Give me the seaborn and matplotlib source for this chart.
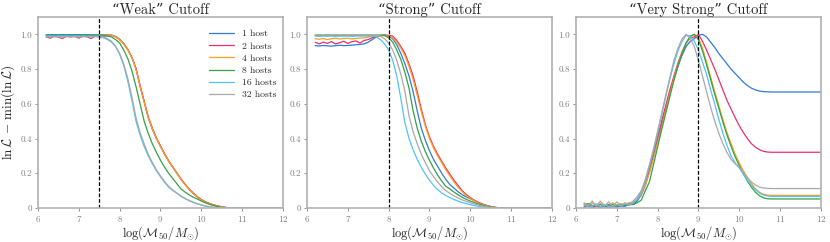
import numpy as np
import pandas as pd
import matplotlib
matplotlib.use("Agg")
import matplotlib.pyplot as plt
from matplotlib.ticker import FuncFormatter
import seaborn as sns

# mass grid: 6.2 .. 10.8 in steps of 0.1, then the flat tail out to 12
mass = [round(6.2 + 0.1 * i, 1) for i in range(47)] + [12.0]

hosts = ["1 host", "2 hosts", "4 hosts", "8 hosts", "16 hosts", "32 hosts"]
colors = ["#2f7bd4", "#ec2f6b", "#ff9f1c", "#35a047", "#4fc3f7", "#a9a9a9"]

titles = ["\u201cWeak\u201d Cutoff", "\u201cStrong\u201d Cutoff", "\u201cVery Strong\u201d Cutoff"]
cutoffs = [7.5, 8.0, 9.0]

# ---- "Weak" cutoff ----
weak = {
    "1 host": [0.998, 0.998, 0.998, 0.998, 0.998, 0.998, 0.998, 0.998, 0.998, 0.998,
               0.998, 0.998, 0.998, 0.998, 0.998, 0.997, 0.996, 0.988, 0.972, 0.947,
               0.912, 0.866, 0.801, 0.702, 0.612, 0.52, 0.455, 0.4, 0.355, 0.31,
               0.27, 0.235, 0.2, 0.166, 0.136, 0.108, 0.085, 0.064, 0.047, 0.034,
               0.025, 0.017, 0.011, 0.006, 0.003, 0.001, 0.0, 0.0],
    "2 hosts": [0.985, 0.978, 0.99, 0.984, 0.976, 0.99, 0.985, 0.99, 0.978, 0.99,
                0.986, 0.976, 0.99, 0.992, 0.99, 0.993, 0.994, 0.986, 0.97, 0.946,
                0.912, 0.868, 0.804, 0.706, 0.616, 0.525, 0.46, 0.404, 0.358, 0.313,
                0.272, 0.237, 0.202, 0.168, 0.138, 0.11, 0.087, 0.066, 0.049, 0.036,
                0.026, 0.018, 0.012, 0.007, 0.003, 0.001, 0.0, 0.0],
    "4 hosts": [0.992, 0.993, 0.991, 0.993, 0.992, 0.993, 0.991, 0.993, 0.992, 0.993,
                0.993, 0.994, 0.994, 0.995, 0.995, 0.995, 0.995, 0.985, 0.97, 0.945,
                0.91, 0.865, 0.80, 0.70, 0.61, 0.52, 0.455, 0.40, 0.355, 0.31,
                0.27, 0.235, 0.20, 0.165, 0.135, 0.108, 0.085, 0.064, 0.047, 0.034,
                0.025, 0.017, 0.011, 0.006, 0.003, 0.001, 0.0, 0.0],
    "8 hosts": [0.995, 0.995, 0.994, 0.995, 0.994, 0.995, 0.994, 0.995, 0.994, 0.995,
                0.995, 0.994, 0.993, 0.992, 0.991, 0.99, 0.985, 0.97, 0.95, 0.91,
                0.86, 0.79, 0.70, 0.60, 0.50, 0.43, 0.37, 0.32, 0.275, 0.235,
                0.20, 0.17, 0.14, 0.11, 0.092, 0.076, 0.062, 0.052, 0.04, 0.03,
                0.021, 0.014, 0.008, 0.004, 0.002, 0.0, 0.0, 0.0],
    "16 hosts": [0.99, 0.991, 0.99, 0.991, 0.99, 0.991, 0.99, 0.991, 0.99, 0.99,
                 0.99, 0.99, 0.99, 0.989, 0.985, 0.975, 0.96, 0.93, 0.885, 0.82,
                 0.73, 0.62, 0.50, 0.42, 0.355, 0.30, 0.255, 0.215, 0.18, 0.148,
                 0.12, 0.101, 0.085, 0.068, 0.054, 0.042, 0.032, 0.024, 0.017, 0.011,
                 0.006, 0.003, 0.001, 0.0, 0.0, 0.0, 0.0, 0.0],
    "32 hosts": [0.985, 0.986, 0.985, 0.986, 0.985, 0.986, 0.985, 0.986, 0.985, 0.986,
                 0.986, 0.986, 0.986, 0.985, 0.98, 0.97, 0.955, 0.93, 0.89, 0.83,
                 0.745, 0.64, 0.52, 0.435, 0.37, 0.31, 0.262, 0.22, 0.185, 0.153,
                 0.125, 0.104, 0.086, 0.07, 0.056, 0.044, 0.034, 0.025, 0.018, 0.012,
                 0.007, 0.004, 0.002, 0.001, 0.0, 0.0, 0.0, 0.0],
}

# ---- "Strong" cutoff ----
strong = {
    "1 host": [0.935, 0.933, 0.936, 0.934, 0.932, 0.935, 0.937, 0.935, 0.936, 0.938,
               0.94, 0.942, 0.945, 0.955, 0.97, 0.985, 0.993, 0.996, 0.99, 0.975,
               0.94, 0.89, 0.83, 0.76, 0.67, 0.56, 0.46, 0.39, 0.33, 0.28,
               0.24, 0.20, 0.165, 0.135, 0.115, 0.094, 0.077, 0.064, 0.053, 0.042,
               0.032, 0.023, 0.015, 0.009, 0.004, 0.001, 0.0, 0.0],
    "2 hosts": [0.955, 0.945, 0.955, 0.948, 0.958, 0.945, 0.952, 0.96, 0.948, 0.958,
                0.962, 0.95, 0.965, 0.97, 0.98, 0.988, 0.993, 0.995, 0.995, 0.99,
                0.965, 0.93, 0.89, 0.83, 0.76, 0.67, 0.57, 0.48, 0.41, 0.355,
                0.31, 0.27, 0.23, 0.195, 0.16, 0.13, 0.10, 0.078, 0.06, 0.045,
                0.032, 0.022, 0.014, 0.008, 0.004, 0.001, 0.0, 0.0],
    "4 hosts": [0.975, 0.972, 0.976, 0.97, 0.975, 0.978, 0.973, 0.976, 0.978, 0.974,
                0.977, 0.978, 0.98, 0.984, 0.988, 0.99, 0.992, 0.992, 0.99, 0.98,
                0.955, 0.92, 0.875, 0.815, 0.74, 0.65, 0.555, 0.47, 0.40, 0.345,
                0.30, 0.26, 0.22, 0.185, 0.15, 0.12, 0.094, 0.072, 0.055, 0.041,
                0.029, 0.02, 0.013, 0.007, 0.003, 0.001, 0.0, 0.0],
    "8 hosts": [0.995, 0.996, 0.995, 0.996, 0.995, 0.996, 0.995, 0.996, 0.995, 0.996,
                0.996, 0.996, 0.996, 0.996, 0.996, 0.996, 0.996, 0.995, 0.98, 0.955,
                0.91, 0.855, 0.78, 0.69, 0.56, 0.46, 0.385, 0.325, 0.275, 0.23,
                0.19, 0.155, 0.125, 0.11, 0.092, 0.076, 0.062, 0.05, 0.04, 0.031,
                0.023, 0.016, 0.01, 0.006, 0.003, 0.001, 0.0, 0.0],
    "16 hosts": [0.99, 0.988, 0.99, 0.989, 0.99, 0.988, 0.99, 0.989, 0.99, 0.988,
                 0.99, 0.99, 0.99, 0.99, 0.99, 0.985, 0.97, 0.945, 0.91, 0.85,
                 0.76, 0.63, 0.49, 0.40, 0.335, 0.28, 0.235, 0.195, 0.16, 0.13,
                 0.106, 0.087, 0.072, 0.06, 0.049, 0.04, 0.032, 0.025, 0.019, 0.014,
                 0.01, 0.006, 0.003, 0.001, 0.0, 0.0, 0.0, 0.0],
    "32 hosts": [0.996, 0.997, 0.996, 0.997, 0.996, 0.997, 0.996, 0.997, 0.996, 0.997,
                 0.997, 0.997, 0.997, 0.997, 0.996, 0.995, 0.99, 0.975, 0.95, 0.91,
                 0.85, 0.77, 0.67, 0.53, 0.44, 0.37, 0.31, 0.26, 0.215, 0.18,
                 0.15, 0.123, 0.10, 0.084, 0.07, 0.058, 0.047, 0.038, 0.03, 0.023,
                 0.017, 0.011, 0.007, 0.004, 0.002, 0.0, 0.0, 0.0],
}

# ---- "Very Strong" cutoff ----
very_strong = {
    "1 host": [0.005, 0.01, 0.0, 0.01, 0.005, 0.015, 0.0, 0.01, 0.005, 0.012,
               0.01, 0.02, 0.02, 0.04, 0.075, 0.13, 0.21, 0.30, 0.39, 0.48,
               0.57, 0.66, 0.74, 0.815, 0.88, 0.93, 0.96, 0.975, 0.995, 1.0,
               0.985, 0.955, 0.925, 0.89, 0.86, 0.83, 0.80, 0.775, 0.75, 0.725,
               0.705, 0.69, 0.68, 0.673, 0.67, 0.669, 0.668, 0.668],
    "2 hosts": [0.01, 0.02, 0.005, 0.015, 0.0, 0.01, 0.02, 0.005, 0.015, 0.01,
                0.02, 0.015, 0.03, 0.05, 0.09, 0.15, 0.23, 0.32, 0.41, 0.50,
                0.59, 0.68, 0.76, 0.835, 0.90, 0.95, 0.98, 0.985, 1.0, 0.96,
                0.91, 0.855, 0.80, 0.74, 0.68, 0.62, 0.57, 0.52, 0.475, 0.435,
                0.40, 0.37, 0.35, 0.335, 0.326, 0.322, 0.321, 0.321],
    "4 hosts": [0.025, 0.02, 0.03, 0.01, 0.025, 0.02, 0.01, 0.03, 0.015, 0.025,
                0.02, 0.03, 0.035, 0.05, 0.08, 0.13, 0.20, 0.285, 0.375, 0.465,
                0.56, 0.655, 0.745, 0.825, 0.895, 0.95, 0.985, 1.0, 0.98, 0.92,
                0.84, 0.755, 0.67, 0.59, 0.51, 0.435, 0.37, 0.31, 0.26, 0.215,
                0.175, 0.14, 0.11, 0.09, 0.079, 0.074, 0.073, 0.073],
    "8 hosts": [0.02, 0.025, 0.015, 0.01, 0.02, 0.005, 0.015, 0.02, 0.01, 0.02,
                0.015, 0.025, 0.02, 0.03, 0.045, 0.10, 0.15, 0.25, 0.35, 0.45,
                0.545, 0.64, 0.735, 0.82, 0.89, 0.95, 0.99, 1.0, 0.97, 0.905,
                0.825, 0.74, 0.655, 0.575, 0.495, 0.42, 0.355, 0.295, 0.245, 0.20,
                0.155, 0.12, 0.09, 0.07, 0.058, 0.053, 0.052, 0.052],
    "16 hosts": [0.02, 0.005, 0.01, 0.025, 0.005, 0.02, 0.01, 0.005, 0.02, 0.01,
                 0.025, 0.015, 0.03, 0.05, 0.09, 0.155, 0.24, 0.33, 0.43, 0.535,
                 0.64, 0.74, 0.83, 0.905, 0.96, 0.995, 0.99, 0.96, 0.91, 0.84,
                 0.77, 0.68, 0.60, 0.51, 0.43, 0.36, 0.30, 0.26, 0.23, 0.195,
                 0.16, 0.13, 0.105, 0.085, 0.074, 0.069, 0.067, 0.067],
    "32 hosts": [0.03, 0.01, 0.04, 0.01, 0.04, 0.01, 0.035, 0.01, 0.035, 0.015,
                 0.03, 0.02, 0.04, 0.065, 0.10, 0.165, 0.25, 0.34, 0.44, 0.545,
                 0.65, 0.75, 0.85, 0.92, 0.975, 1.0, 0.975, 0.93, 0.85, 0.76,
                 0.67, 0.58, 0.50, 0.43, 0.37, 0.32, 0.28, 0.255, 0.235, 0.205,
                 0.175, 0.15, 0.132, 0.12, 0.115, 0.113, 0.112, 0.112],
}

panels = [weak, strong, very_strong]

sns.set_style("ticks")
plt.rcParams["font.family"] = ["cmr10", "DejaVu Serif"]
plt.rcParams["mathtext.fontset"] = "cm"
plt.rcParams["axes.formatter.use_mathtext"] = True
plt.rcParams["axes.unicode_minus"] = False

fig, axes = plt.subplots(1, 3, figsize=(8.3, 2.42), dpi=100)
fig.subplots_adjust(left=0.0458, right=0.989, bottom=0.1405, top=0.9298, wspace=0.098)

palette = dict(zip(hosts, colors))

for i, ax in enumerate(axes):
    rows = []
    for h in hosts:
        for m, v in zip(mass, panels[i][h]):
            rows.append({"mass": m, "lnL": v, "hosts": h})
    df = pd.DataFrame(rows)
    sns.lineplot(data=df, x="mass", y="lnL", hue="hosts", hue_order=hosts,
                 palette=palette, linewidth=0.9, ax=ax, legend=(i == 0))
    ax.axvline(cutoffs[i], color="black", linestyle="--", linewidth=0.9, dashes=(3, 1.5))
    ax.set_xlim(6, 12)
    ax.set_ylim(0, 1.1)
    ax.set_xticks(range(6, 13))
    ax.set_yticks([0, 0.2, 0.4, 0.6, 0.8, 1.0])
    ax.yaxis.set_major_formatter(FuncFormatter(lambda v, p: "0" if v == 0 else f"{v:.1f}"))
    ax.tick_params(labelsize=6.5, colors="#808080", length=2.5, width=0.6, pad=2)
    for s in ax.spines.values():
        s.set_color("#b0b0b0")
        s.set_linewidth(1.2)
    ax.set_title(titles[i], fontsize=10.5, pad=2)
    ax.set_xlabel(r"$\log(\mathcal{M}_{50}/M_{\odot})$", fontsize=9, labelpad=0)
    ax.set_ylabel("")
    if i == 0:
        ax.set_ylabel(r"$\ln\mathcal{L}\,-\,\min(\ln\mathcal{L})$", fontsize=9.5, labelpad=2)
        ax.legend(frameon=False, fontsize=7, loc="upper right", handlelength=2.6,
                  borderaxespad=0.3, labelspacing=0.35, bbox_to_anchor=(1.0, 0.97))

fig.savefig("out.png", dpi=100)
